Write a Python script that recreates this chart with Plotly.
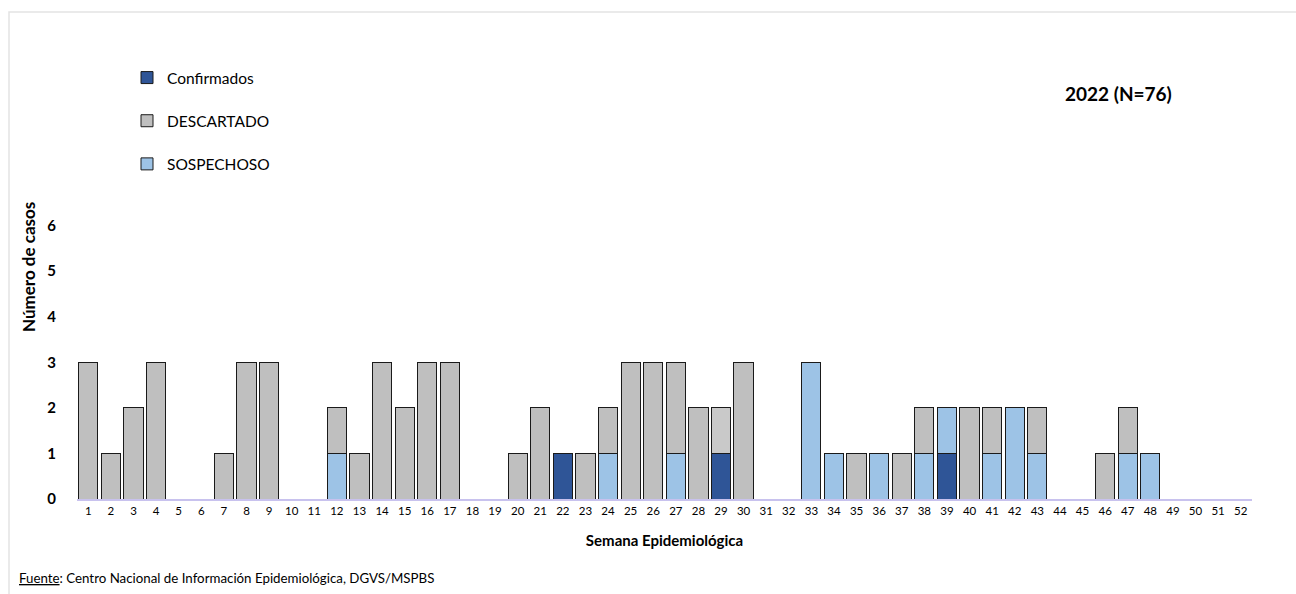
import plotly.graph_objects as go

weeks = [str(i) for i in range(1, 53)]
confirmados = [0]*52
descartado = [0]*52
sospechoso = [0]*52

conf_data = {22: 1, 29: 1, 39: 1}
desc_data = {1: 3, 2: 1, 3: 2, 4: 3, 7: 1, 8: 3, 9: 3, 12: 1, 13: 1, 14: 3, 15: 2, 16: 3, 17: 3,
             20: 1, 21: 2, 23: 1, 24: 1, 25: 3, 26: 3, 27: 2, 28: 2, 29: 1, 30: 3,
             35: 1, 37: 1, 38: 1, 40: 2, 41: 1, 43: 1, 46: 1, 47: 1}
sosp_data = {12: 1, 24: 1, 27: 1, 33: 3, 34: 1, 36: 1, 38: 1, 39: 1, 41: 1, 42: 2, 43: 1, 47: 1, 48: 1}
for k, v in conf_data.items():
    confirmados[k-1] = v
for k, v in desc_data.items():
    descartado[k-1] = v
for k, v in sosp_data.items():
    sospechoso[k-1] = v

C_CONF = "#2F5597"
C_DESC = "#BFBFBF"
C_SOSP = "#9DC3E6"
desc_colors = [C_DESC]*52
desc_colors[28] = "#C9C9C9"

FONT = "Lato"
line = dict(color="#1a1a1a", width=1)

L, R, T, B = 77, 44, 180, 95
w_plot = 1296 - L - R
h_plot = 594 - T - B
def px(x):
    return (x - L) / w_plot
def py(y):
    return (594 - B - y) / h_plot

fig = go.Figure()
fig.add_trace(go.Bar(x=weeks, y=confirmados, name="Confirmados", marker=dict(color=C_CONF, line=line),
                     legendrank=1, legendgroup="a"))
fig.add_trace(go.Bar(x=weeks, y=sospechoso, name="SOSPECHOSO", marker=dict(color=C_SOSP, line=line),
                     legendrank=3, legendgroup="c"))
fig.add_trace(go.Bar(x=weeks, y=descartado, name="DESCARTADO", marker=dict(color=desc_colors, line=line),
                     legendrank=2, legendgroup="b"))

fig.update_layout(
    width=1296, height=594,
    barmode="stack", bargap=0.15,
    plot_bgcolor="white", paper_bgcolor="white",
    font=dict(family=FONT, color="#000000", size=11),
    margin=dict(l=L, r=R, t=T, b=B),
    showlegend=True,
    legend=dict(x=px(127), xanchor="left", y=py(61), yanchor="top", orientation="v",
                tracegroupgap=20, font=dict(size=15.5, family=FONT), bgcolor="rgba(0,0,0,0)",
                itemwidth=30),
    xaxis=dict(type="category", showline=True, linecolor="#C8C2EE", linewidth=1.5,
               ticks="", tickfont=dict(size=11.5, family=FONT),
               title=dict(text="Semana Epidemiológica", font=dict(size=15, family=FONT, weight="bold"),
                          standoff=20)),
    yaxis=dict(range=[0, 7], tickvals=[0, 1, 2, 3, 4, 5, 6], showgrid=False, zeroline=False,
               showline=False, tickfont=dict(size=15, family=FONT, weight="bold"), ticklabelstandoff=20),
    annotations=[
        dict(text="<b>2022 (N=76)</b>", x=px(1118), y=py(93), xref="paper", yref="paper",
             xanchor="center", yanchor="middle",
             showarrow=False, font=dict(size=19, family=FONT)),
        dict(text="<b>Número de casos</b>", textangle=-90, xref="paper", yref="paper",
             x=px(28), y=py(267), xanchor="center", yanchor="middle",
             showarrow=False, font=dict(size=17, family=FONT)),
        dict(text="<u>Fuente</u>: Centro Nacional de Información Epidemiológica, DGVS/MSPBS",
             xref="paper", yref="paper", x=px(17), y=py(578), xanchor="left", yanchor="middle",
             showarrow=False, font=dict(size=13.3, family=FONT)),
    ],
)

fig.add_shape(type="path", xref="paper", yref="paper",
              path=f"M {px(9)} {py(594)} L {px(9)} {py(12)} L {px(1296)} {py(12)}",
              line=dict(color="#E3E3E3", width=1.5))

fig.write_html("out.html")
